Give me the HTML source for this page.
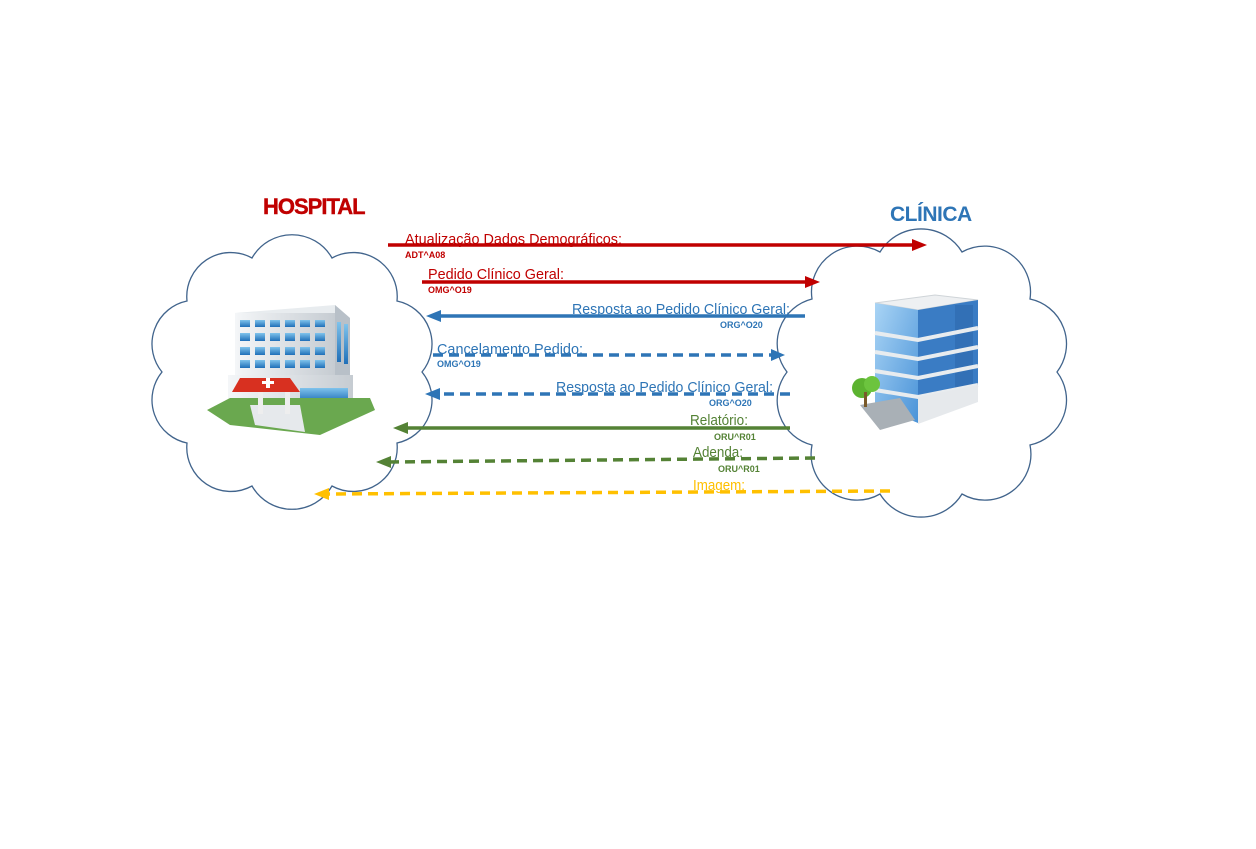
<!DOCTYPE html>
<html><head><meta charset="utf-8"><style>
html,body{margin:0;padding:0;background:#fff;}
svg{display:block;}
text{font-family:"Liberation Sans",sans-serif;}
</style></head><body>
<svg width="1256" height="849" viewBox="0 0 1256 849" xmlns="http://www.w3.org/2000/svg">
<defs>
<linearGradient id="win" x1="0" y1="0" x2="0" y2="1"><stop offset="0" stop-color="#7fc3ec"/><stop offset="1" stop-color="#1f6fb8"/></linearGradient>
<linearGradient id="wall" x1="0" y1="0" x2="1" y2="0"><stop offset="0" stop-color="#f4f6f8"/><stop offset="1" stop-color="#c6ccd2"/></linearGradient>
<linearGradient id="cwin" x1="0" y1="0" x2="1" y2="1"><stop offset="0" stop-color="#a9d4f5"/><stop offset="1" stop-color="#4a93d8"/></linearGradient>
</defs>
<g fill="none" stroke="#41648c" stroke-width="1.3">
<path d="M422,372 A44,44 0 0 1 397,443 A44,44 0 0 1 332,486 A46,46 0 0 1 252,486 A44,44 0 0 1 187,443 A44,44 0 0 1 162,372 A44,44 0 0 1 187,301 A44,44 0 0 1 252,258 A46,46 0 0 1 332,258 A44,44 0 0 1 397,301 A44,44 0 0 1 422,372 Z"/>
<path d="M1057,372 A46,46 0 0 1 1030,445 A46,46 0 0 1 962,494 A48,48 0 0 1 880,494 A46,46 0 0 1 812,445 A46,46 0 0 1 787,372 A46,46 0 0 1 812,299 A46,46 0 0 1 880,252 A48,48 0 0 1 962,252 A46,46 0 0 1 1030,299 A46,46 0 0 1 1057,372 Z"/>
</g>
<text x="263" y="214" font-size="22" font-weight="bold" fill="#c00000" letter-spacing="-1" stroke="#c00000" stroke-width="0.4">HOSPITAL</text>
<text x="890" y="221" font-size="21" font-weight="bold" fill="#2e75b6" letter-spacing="-0.5">CLÍNICA</text>

<g>
<polygon points="235,313 335,305 350,318 250,327" fill="#e8ecef"/>
<rect x="235" y="313" width="100" height="72" fill="url(#wall)"/>
<polygon points="335,305 350,318 350,390 335,385" fill="#b8c0c8"/>
<g fill="url(#win)">
<rect x="240" y="320" width="10" height="7"/><rect x="255" y="320" width="10" height="7"/><rect x="270" y="320" width="10" height="7"/><rect x="285" y="320" width="10" height="7"/><rect x="300" y="320" width="10" height="7"/><rect x="315" y="320" width="10" height="7"/>
<rect x="240" y="333" width="10" height="8"/><rect x="255" y="333" width="10" height="8"/><rect x="270" y="333" width="10" height="8"/><rect x="285" y="333" width="10" height="8"/><rect x="300" y="333" width="10" height="8"/><rect x="315" y="333" width="10" height="8"/>
<rect x="240" y="347" width="10" height="8"/><rect x="255" y="347" width="10" height="8"/><rect x="270" y="347" width="10" height="8"/><rect x="285" y="347" width="10" height="8"/><rect x="300" y="347" width="10" height="8"/><rect x="315" y="347" width="10" height="8"/>
<rect x="240" y="360" width="10" height="8"/><rect x="255" y="360" width="10" height="8"/><rect x="270" y="360" width="10" height="8"/><rect x="285" y="360" width="10" height="8"/><rect x="300" y="360" width="10" height="8"/><rect x="315" y="360" width="10" height="8"/>
<rect x="337" y="322" width="4" height="40"/><rect x="344" y="324" width="4" height="40"/>
</g>
<rect x="228" y="375" width="125" height="35" fill="url(#wall)"/>
<rect x="300" y="388" width="48" height="14" fill="url(#win)"/>
<polygon points="207,410 230,398 370,398 375,410 320,435 230,425" fill="#6aa84f"/>
<polygon points="250,405 300,405 305,432 255,425" fill="#e6e9ec"/>
<rect x="258" y="392" width="5" height="22" fill="#eee"/><rect x="285" y="392" width="5" height="22" fill="#eee"/>
<polygon points="240,378 290,378 300,392 232,392" fill="#d83020"/>
<rect x="262" y="381" width="12" height="3" fill="#fff"/><rect x="266" y="378" width="4" height="10" fill="#fff"/>
</g>

<g>
<polygon points="875,303 935,295 978,300 918,310" fill="#eef0f2" stroke="#cfd4d8"/>
<polygon points="875,303 918,310 918,423 875,405" fill="url(#cwin)"/>
<polygon points="918,310 978,300 978,400 918,423" fill="#3a7cc4"/>
<rect x="955" y="305" width="18" height="95" fill="#2a63a8" opacity="0.5"/>
<g stroke="#e8ecef" stroke-width="4" fill="none">
<polyline points="875,333 918,340 978,328"/><polyline points="875,352 918,359 978,347"/><polyline points="875,371 918,378 978,366"/><polyline points="875,390 918,397 978,385"/>
</g>
<polygon points="918,397 978,385 978,402 918,424" fill="#e6e9ec"/>
<polygon points="860,405 900,398 915,420 880,430" fill="#a9b0b6"/>
<circle cx="862" cy="388" r="10" fill="#5cb330"/><circle cx="872" cy="384" r="8" fill="#6cc43e"/>
<rect x="864" y="392" width="3" height="15" fill="#7a5a2a"/>
</g>

<g stroke-width="3.5" fill="none">
<line x1="388" y1="245" x2="915" y2="245" stroke="#c00000"/>
<line x1="422" y1="282" x2="808" y2="282" stroke="#c00000"/>
<line x1="805" y1="316" x2="438" y2="316" stroke="#2e75b6"/>
<line x1="433" y1="355" x2="773" y2="355" stroke="#2e75b6" stroke-dasharray="10,6"/>
<line x1="790" y1="394" x2="437" y2="394" stroke="#2e75b6" stroke-dasharray="10,6"/>
<line x1="790" y1="428" x2="405" y2="428" stroke="#548235"/>
<line x1="815" y1="458" x2="388" y2="462" stroke="#548235" stroke-dasharray="10,6"/>
<line x1="890" y1="491" x2="326" y2="494" stroke="#ffc000" stroke-dasharray="10,6"/>
</g>
<g>
<polygon points="927,245 912,239 912,251" fill="#c00000"/>
<polygon points="820,282 805,276 805,288" fill="#c00000"/>
<polygon points="426,316 441,310 441,322" fill="#2e75b6"/>
<polygon points="785,355 771,349 771,361" fill="#2e75b6"/>
<polygon points="425,394 440,388 440,400" fill="#2e75b6"/>
<polygon points="393,428 408,422 408,434" fill="#548235"/>
<polygon points="376,462 391,456 391,468" fill="#548235"/>
<polygon points="314,494 329,488 329,500" fill="#ffc000"/>
</g>

<g font-size="14.3">
<text x="405" y="244" fill="#c00000" textLength="217" lengthAdjust="spacingAndGlyphs">Atualização Dados Demográficos:</text>
<text x="428" y="279" fill="#c00000" textLength="136" lengthAdjust="spacingAndGlyphs">Pedido Clínico Geral:</text>
<text x="572" y="314" fill="#2e75b6" textLength="218" lengthAdjust="spacingAndGlyphs">Resposta ao Pedido Clínico Geral:</text>
<text x="437" y="354" fill="#2e75b6" textLength="146" lengthAdjust="spacingAndGlyphs">Cancelamento Pedido:</text>
<text x="556" y="392" fill="#2e75b6" textLength="217" lengthAdjust="spacingAndGlyphs">Resposta ao Pedido Clínico Geral:</text>
<text x="690" y="425" fill="#548235" textLength="58" lengthAdjust="spacingAndGlyphs">Relatório:</text>
<text x="693" y="457" fill="#548235" textLength="50" lengthAdjust="spacingAndGlyphs">Adenda:</text>
<text x="693" y="490" fill="#ffc000" textLength="52" lengthAdjust="spacingAndGlyphs">Imagem:</text>
</g>
<g font-size="9" font-weight="bold">
<text x="405" y="258" fill="#c00000">ADT^A08</text>
<text x="428" y="293" fill="#c00000">OMG^O19</text>
<text x="720" y="328" fill="#2e75b6">ORG^O20</text>
<text x="437" y="367" fill="#2e75b6">OMG^O19</text>
<text x="709" y="406" fill="#2e75b6">ORG^O20</text>
<text x="714" y="440" fill="#548235">ORU^R01</text>
<text x="718" y="472" fill="#548235">ORU^R01</text>
</g>
</svg>
</body></html>
